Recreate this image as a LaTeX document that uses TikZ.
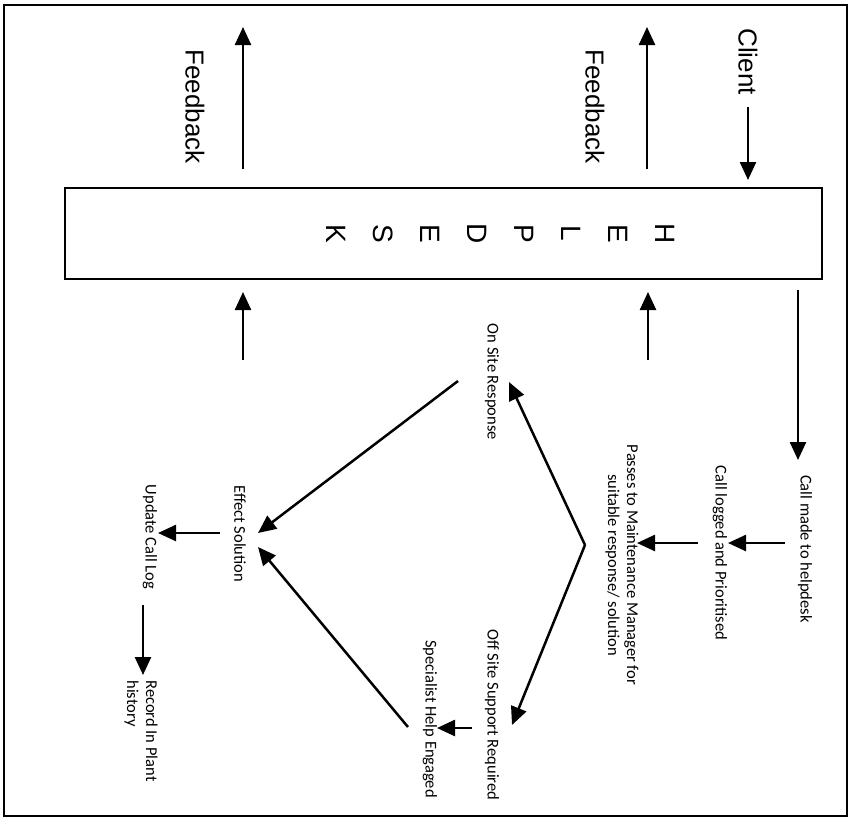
\documentclass[tikz,border=0pt]{standalone}
\usepackage{fontspec}
\setmainfont{Liberation Sans}
\newfontfamily\lblfont{Carlito}
\usetikzlibrary{arrows.meta}
\begin{document}
\begin{tikzpicture}[x=1pt,y=-1pt,
  arr/.style={line width=2.5pt,-{Triangle[length=18pt,width=16pt]}},
  big/.style={rotate=-90,font=\fontsize{26}{30}\selectfont,inner sep=0pt},
  lbl/.style={rotate=-90,font=\lblfont\fontsize{16.5}{19}\selectfont,inner sep=0pt,align=center},
  letter/.style={rotate=-90,font=\fontsize{28}{30}\selectfont,inner sep=0pt},
  frame/.style={draw,line width=2.2pt}]
\useasboundingbox (0,0) rectangle (855,820);
\draw[frame] (4,5) rectangle (847,816);
% help desk box
\node[frame,minimum width=757pt,minimum height=91pt,inner sep=0pt] (box) at (443.5,233.5) {};
\node[letter] (l1) at (665,233.5) {H};
\node[letter] (l2) at (618,233.5) {E};
\node[letter] (l3) at (571,233.5) {L};
\node[letter] (l4) at (524,233.5) {P};
\node[letter] (l5) at (477,233.5) {D};
\node[letter] (l6) at (430,233.5) {E};
\node[letter] (l7) at (383,233.5) {S};
\node[letter] (l8) at (336,233.5) {K};
% top labels
\node[big] (client) at (748,61.5) {Client};
\node[big] (fbr) at (595,106.5) {Feedback};
\node[big] (fbl) at (195,106.5) {Feedback};
% lower labels
\node[lbl] (call) at (805,549) {Call made to helpdesk};
\node[lbl] (logged) at (720,553) {Call logged and Prioritised};
\node[lbl] (passes) at (622,565) {Passes to Maintenance Manager for\\suitable response/ solution};
\node[lbl] (onsite) at (492,382) {On Site Response};
\node[lbl] (offsite) at (492,715) {Off Site Support Required};
\node[lbl] (spec) at (430,719) {Specialist Help Engaged};
\node[lbl] (effect) at (240,534) {Effect Solution};
\node[lbl] (update) at (150,537) {Update Call Log};
\node[lbl,align=left] (record) at (141,731) {Record In Plant\\history};
% coordinates
\coordinate (c1) at (748,107); \coordinate (c2) at (748,180);
\coordinate (f1) at (647,169); \coordinate (f2) at (647,27);
\coordinate (f3) at (243,169); \coordinate (f4) at (243,27);
\coordinate (d1) at (798,290); \coordinate (d2) at (798,460);
\coordinate (u1) at (648,360); \coordinate (u2) at (648,292);
\coordinate (u3) at (243,360); \coordinate (u4) at (243,292);
\coordinate (a1) at (785,543); \coordinate (a2) at (728,543);
\coordinate (a3) at (698,543); \coordinate (a4) at (637,543);
\coordinate (v) at (585,545);
\coordinate (vt) at (509,382); \coordinate (vb) at (512,725);
\coordinate (s1) at (472,728); \coordinate (s2) at (437,728);
\coordinate (e1) at (458,381); \coordinate (e2) at (258,533);
\coordinate (e3) at (408,727); \coordinate (e4) at (258,547);
\coordinate (g1) at (220,533); \coordinate (g2) at (158,533);
\coordinate (r1) at (143,605); \coordinate (r2) at (143,675);
\draw[arr] (c1) -- (c2);
\draw[arr] (f1) -- (f2);
\draw[arr] (f3) -- (f4);
\draw[arr] (d1) -- (d2);
\draw[arr] (u1) -- (u2);
\draw[arr] (u3) -- (u4);
\draw[arr] (a1) -- (a2);
\draw[arr] (a3) -- (a4);
\draw[arr] (v) -- (vt);
\draw[arr] (v) -- (vb);
\draw[arr] (s1) -- (s2);
\draw[arr] (e1) -- (e2);
\draw[arr] (e3) -- (e4);
\draw[arr] (g1) -- (g2);
\draw[arr] (r1) -- (r2);
\end{tikzpicture}
\end{document}
